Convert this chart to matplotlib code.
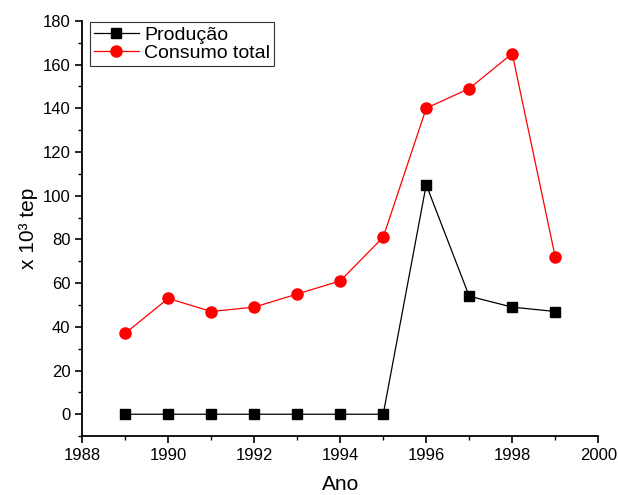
import matplotlib
matplotlib.use("Agg")
import matplotlib.pyplot as plt
from matplotlib.ticker import MultipleLocator

plt.rcParams['font.family'] = ['Liberation Sans', 'DejaVu Sans']

anos = [1989, 1990, 1991, 1992, 1993, 1994, 1995, 1996, 1997, 1998, 1999]
producao = [0, 0, 0, 0, 0, 0, 0, 105, 54, 49, 47]
consumo = [37, 53, 47, 49, 55, 61, 81, 140, 149, 165, 72]

fig = plt.figure(figsize=(6.18, 4.95), dpi=100)
ax = fig.add_axes([0.133, 0.119, 0.835, 0.839])

ax.plot(anos, producao, color='black', lw=0.9, marker='s', ms=7, label='Produção')
ax.plot(anos, consumo, color='red', lw=0.9, marker='o', ms=8, label='Consumo total')

ax.set_xlim(1988, 2000)
ax.set_ylim(-10, 180)
ax.xaxis.set_major_locator(MultipleLocator(2))
ax.xaxis.set_minor_locator(MultipleLocator(1))
ax.yaxis.set_major_locator(MultipleLocator(20))
ax.yaxis.set_minor_locator(MultipleLocator(10))

for s in ['top', 'right']:
    ax.spines[s].set_visible(False)
for s in ['left', 'bottom']:
    ax.spines[s].set_linewidth(1.3)

ax.tick_params(which='major', direction='out', length=5, width=1.2, labelsize=12)
ax.tick_params(which='minor', direction='out', length=3, width=1.0)

ax.set_xlabel('Ano', fontsize=15, labelpad=9)
ax.set_ylabel('x 10³ tep', fontsize=15, labelpad=3)

leg = ax.legend(loc='upper left', bbox_to_anchor=(0.015, 0.997), fontsize=14,
                frameon=True, fancybox=False, edgecolor='black',
                handlelength=2.3, borderpad=0.2, labelspacing=0.05, handletextpad=0.3,
                borderaxespad=0.0)
leg.get_frame().set_linewidth(0.8)

fig.savefig('out.png', dpi=100)
